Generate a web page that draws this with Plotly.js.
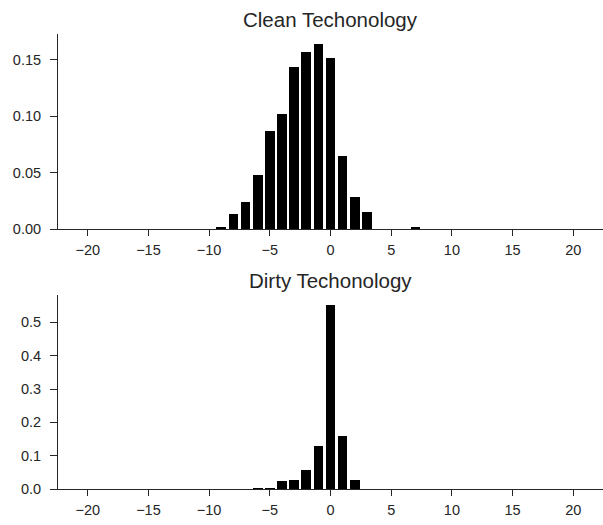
<!DOCTYPE html>
<html>
<head>
<meta charset="utf-8">
<script src="https://cdn.plot.ly/plotly-3.0.1.min.js"></script>
<style>html,body{margin:0;padding:0;background:#fff;}#chart{width:603px;height:525px;}</style>
</head>
<body>
<div id="chart"></div>
<script>
// Bin centres (-20 .. 20)
const bins = [];
for (let i = -20; i <= 20; i++) bins.push(i);

// Clean technology: non-zero frequencies
const cleanX = [-9, -8, -7, -6, -5, -4, -3, -2, -1, 0, 1, 2, 3, 7];
const cleanY = [0.002, 0.0136, 0.024, 0.048, 0.087, 0.102, 0.144, 0.157, 0.164, 0.152, 0.065, 0.028, 0.015, 0.002];

// Dirty technology
const dirtyX = [-6, -5, -4, -3, -2, -1, 0, 1, 2];
const dirtyY = [0.004, 0.004, 0.025, 0.028, 0.058, 0.13, 0.553, 0.16, 0.028];

const titles = ["Clean Techonology", "Dirty Techonology"];
const xTicks = [-20, -15, -10, -5, 0, 5, 10, 15, 20];
const cleanYTicks = [0, 0.05, 0.1, 0.15];
const dirtyYTicks = [0, 0.1, 0.2, 0.3, 0.4, 0.5];

function fill(xs, ys) {
  return bins.map(b => { const k = xs.indexOf(b); return k >= 0 ? ys[k] : 0; });
}

const dark = '#262626';
const font = {family: 'Liberation Sans, Arial, sans-serif', size: 14.5, color: dark};

const traces = [
  {type: 'bar', x: bins, y: fill(cleanX, cleanY), width: 0.8, marker: {color: '#000000'}, xaxis: 'x', yaxis: 'y', hoverinfo: 'x+y'},
  {type: 'bar', x: bins, y: fill(dirtyX, dirtyY), width: 0.8, marker: {color: '#000000'}, xaxis: 'x2', yaxis: 'y2', hoverinfo: 'x+y'}
];

function xax(anchor) {
  return {anchor: anchor, domain: [0, 1], range: [-22.45, 22.45], tickvals: xTicks, ticks: 'outside', ticklen: 6, tickcolor: dark,
    ticklabelstandoff: 2,
    showline: true, linecolor: dark, linewidth: 1, showgrid: false, zeroline: false, tickfont: font};
}
function yax(anchor, dom, rng, tv, fmt) {
  return {anchor: anchor, domain: dom, range: rng, tickvals: tv, tickformat: fmt, ticks: 'outside', ticklen: 7, tickcolor: dark,
    ticklabelstandoff: 6,
    showline: true, linecolor: dark, linewidth: 1, showgrid: false, zeroline: false, tickfont: font};
}

const titleFont = {family: 'Liberation Sans, Arial, sans-serif', size: 20.5, color: dark};

const layout = {
  width: 603, height: 525,
  margin: {l: 58, r: 0, t: 34, b: 36},
  paper_bgcolor: '#ffffff', plot_bgcolor: '#ffffff',
  showlegend: false,
  bargap: 0,
  font: font,
  xaxis: xax('y'),
  yaxis: yax('x', [0.5714, 1], [0, 0.173], cleanYTicks, '.2f'),
  xaxis2: xax('y2'),
  yaxis2: yax('x2', [0, 0.427], [0, 0.583], dirtyYTicks, '.1f'),
  annotations: [
    {text: titles[0], xref: 'paper', yref: 'paper', x: 0.5, y: 1, yshift: 1, xanchor: 'center', yanchor: 'bottom', showarrow: false, font: titleFont},
    {text: titles[1], xref: 'paper', yref: 'paper', x: 0.5, y: 0.427, yshift: 1, xanchor: 'center', yanchor: 'bottom', showarrow: false, font: titleFont}
  ]
};

Plotly.newPlot('chart', traces, layout, {displayModeBar: false, staticPlot: true});
</script>
</body>
</html>
